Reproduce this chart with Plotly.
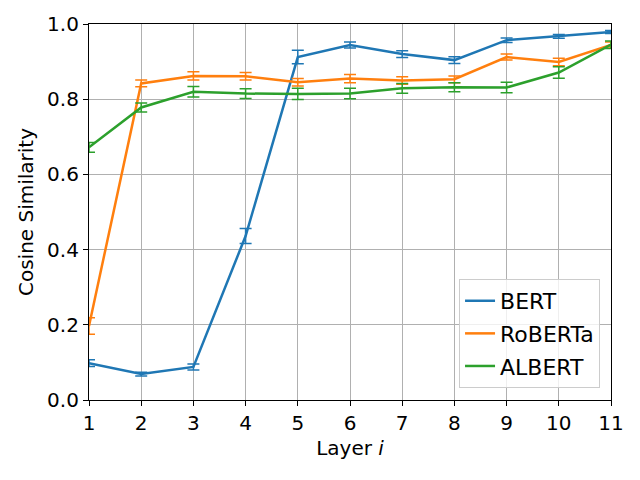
import plotly.graph_objects as go

layers = list(range(1, 12))
bert = [0.098, 0.069, 0.088, 0.436, 0.912, 0.944, 0.920, 0.904, 0.957, 0.967, 0.979]
bert_err = [0.009, 0.005, 0.008, 0.020, 0.018, 0.008, 0.009, 0.009, 0.006, 0.005, 0.004]
roberta = [0.197, 0.842, 0.862, 0.861, 0.845, 0.855, 0.850, 0.853, 0.912, 0.899, 0.944]
roberta_err = [0.022, 0.009, 0.011, 0.010, 0.010, 0.011, 0.010, 0.009, 0.008, 0.010, 0.008]
albert = [0.672, 0.778, 0.820, 0.815, 0.814, 0.815, 0.829, 0.832, 0.831, 0.871, 0.945]
albert_err = [0.013, 0.012, 0.014, 0.013, 0.015, 0.014, 0.013, 0.012, 0.014, 0.015, 0.010]

series = [("BERT", bert, bert_err, "#1f77b4"),
          ("RoBERTa", roberta, roberta_err, "#ff7f0e"),
          ("ALBERT", albert, albert_err, "#2ca02c")]

fig = go.Figure()
for name, vals, errs, col in series:
    fig.add_trace(go.Scatter(
        x=layers, y=vals, name=name, mode="lines", legendgroup=name,
        line=dict(color=col, width=2.5),
        error_y=dict(type="data", array=errs, visible=True, color=col, thickness=1.5, width=6),
    ))

axis_common = dict(
    showline=True, linecolor="black", linewidth=1.2, mirror=True,
    ticks="outside", ticklen=5, tickcolor="black",
    showgrid=True, gridcolor="#b0b0b0", gridwidth=1,
    zeroline=False, automargin=False,
    tickfont=dict(family="DejaVu Sans", size=20, color="black"),
)

fig.update_layout(
    width=632, height=472,
    margin=dict(l=81, r=29, t=16, b=80),
    paper_bgcolor="white", plot_bgcolor="white",
    font=dict(family="DejaVu Sans", color="black"),
    xaxis=dict(range=[1, 11], tickvals=layers,
               title=dict(text="Layer <i>i</i>", font=dict(size=20), standoff=6), **axis_common),
    yaxis=dict(range=[0, 1.0], tickvals=[0, 0.2, 0.4, 0.6, 0.8, 1.0],
               ticktext=["0.0", "0.2", "0.4", "0.6", "0.8", "1.0"],
               title=dict(text="Cosine Similarity", font=dict(size=20), standoff=8), **axis_common),
    legend=dict(x=0.979, y=0.032, xanchor="right", yanchor="bottom",
                bgcolor="rgba(255,255,255,0.8)", bordercolor="#cccccc", borderwidth=1,
                font=dict(size=22), tracegroupgap=1),
    showlegend=True,
)

fig.write_html("out.html")
